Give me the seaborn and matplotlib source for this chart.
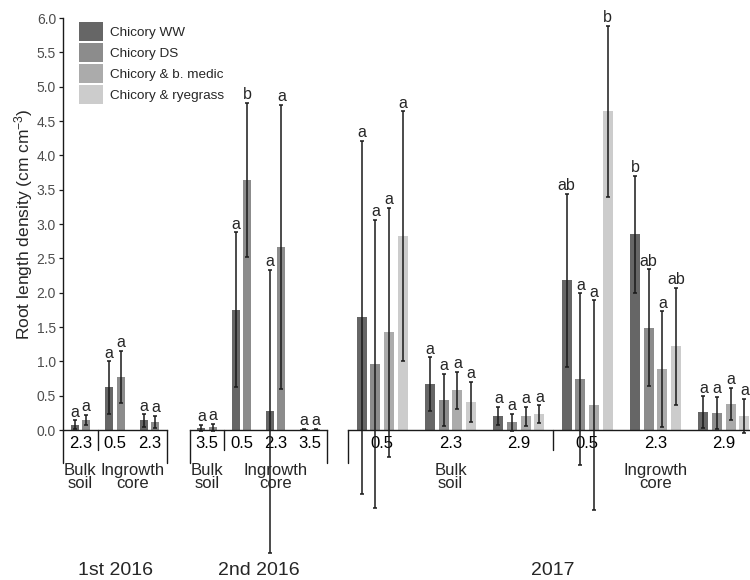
import numpy as np
import pandas as pd
import matplotlib.pyplot as plt
import seaborn as sns
from matplotlib.patches import Patch

# ---------------------------------------------------------------
# Data: root length density (cm cm-3), mean and error, with letters
# ---------------------------------------------------------------
treatments = ['Chicory WW', 'Chicory DS', 'Chicory & b. medic', 'Chicory & ryegrass']
grays = ['#666666', '#8c8c8c', '#ababab', '#cccccc']
palette = dict(zip(treatments, grays))

# 1st 2016
p1_groups = ['Bulk soil 2.3', 'Ingrowth core 0.5', 'Ingrowth core 2.3']
p1_depths = ['2.3', '0.5', '2.3']
p1_ww = [0.08, 0.62, 0.14]
p1_ww_err = [0.06, 0.38, 0.09]
p1_ds = [0.15, 0.77, 0.12]
p1_ds_err = [0.07, 0.38, 0.09]
p1_ww_let = ['a', 'a', 'a']
p1_ds_let = ['a', 'a', 'a']

# 2nd 2016
p2_groups = ['Bulk soil 3.5', 'Ingrowth core 0.5', 'Ingrowth core 2.3', 'Ingrowth core 3.5']
p2_depths = ['3.5', '0.5', '2.3', '3.5']
p2_ww = [0.03, 1.75, 0.27, 0.01]
p2_ww_err = [0.05, 1.13, 2.06, 0.01]
p2_ds = [0.04, 3.64, 2.67, 0.01]
p2_ds_err = [0.05, 1.12, 2.07, 0.01]
p2_ww_let = ['a', 'a', 'a', 'a']
p2_ds_let = ['a', 'b', 'a', 'a']

# 2017
p3_groups = ['Bulk soil 0.5', 'Bulk soil 2.3', 'Bulk soil 2.9',
             'Ingrowth core 0.5', 'Ingrowth core 2.3', 'Ingrowth core 2.9']
p3_depths = ['0.5', '2.3', '2.9', '0.5', '2.3', '2.9']
p3_ww = [1.64, 0.67, 0.21, 2.18, 2.85, 0.26]
p3_ww_err = [2.57, 0.39, 0.13, 1.26, 0.85, 0.23]
p3_ds = [0.96, 0.44, 0.11, 0.74, 1.49, 0.25]
p3_ds_err = [2.10, 0.38, 0.13, 1.25, 0.85, 0.23]
p3_bm = [1.42, 0.58, 0.20, 0.36, 0.89, 0.38]
p3_bm_err = [1.82, 0.27, 0.14, 1.53, 0.84, 0.23]
p3_rg = [2.82, 0.41, 0.23, 4.64, 1.22, 0.20]
p3_rg_err = [1.82, 0.29, 0.13, 1.25, 0.85, 0.25]
p3_ww_let = ['a', 'a', 'a', 'ab', 'b', 'a']
p3_ds_let = ['a', 'a', 'a', 'a', 'ab', 'a']
p3_bm_let = ['a', 'a', 'a', 'a', 'a', 'a']
p3_rg_let = ['a', 'a', 'a', 'b', 'ab', 'a']

# ---------------------------------------------------------------
sns.set_style('ticks')
plt.rcParams['font.family'] = ['Liberation Sans', 'DejaVu Sans']
plt.rcParams['mathtext.default'] = 'regular'

LINE = '#1a1a1a'

fig = plt.figure(figsize=(7.5, 5.8), dpi=100)


def px_axes(left, right, top=18, bottom=430):
    W, H = 750, 580
    return fig.add_axes([left / W, 1 - bottom / H, (right - left) / W, (bottom - top) / H])


def draw_panel(ax, groups, depths, n_bulk, values, errors, letters, year, width, gap):
    levels = treatments[:len(values)]
    df = pd.DataFrame({
        'group': np.tile(groups, len(levels)),
        'treatment': np.repeat(levels, len(groups)),
        'rld': np.concatenate(values),
    })
    sns.barplot(data=df, x='group', y='rld', hue='treatment', order=groups,
                hue_order=levels, palette=palette, width=width, gap=gap,
                errorbar=None, linewidth=0, legend=False, ax=ax)

    # error bars and significance letters on top of the seaborn bars
    for cont, err, lab in zip(ax.containers, errors, letters):
        xs = [b.get_x() + b.get_width() / 2 for b in cont]
        ys = [b.get_height() for b in cont]
        eb = ax.errorbar(xs, ys, yerr=err, fmt='none', ecolor=LINE,
                         elinewidth=1.1, capsize=1.6, capthick=1.1, zorder=3)
        for art in eb.get_children():
            art.set_clip_on(False)
        for x, y, e, t in zip(xs, ys, err, lab):
            ax.annotate(t, (x, y + e), xytext=(0, 0.5), textcoords='offset points',
                        ha='center', va='bottom', fontsize=11.5)

    n = len(groups)
    ax.set_ylim(0, 6)
    ax.set_xlim(-0.5, n - 0.5)
    ax.set_xlabel('')
    ax.set_ylabel('')
    ax.set_xticks(range(n))
    ax.set_xticklabels(depths)
    ax.tick_params(axis='x', length=0, pad=4.5, labelsize=12, labelcolor='black')
    for s in ['top', 'right']:
        ax.spines[s].set_visible(False)
    ax.spines['bottom'].set_color(LINE)
    ax.spines['bottom'].set_linewidth(1.0)

    # nested axis brackets
    trans = ax.get_xaxis_transform()
    for xe in (-0.5, n - 0.5):
        ax.plot([xe, xe], [0, -0.08], transform=trans, clip_on=False, color=LINE, lw=1.0)
    ax.plot([n_bulk - 0.5] * 2, [0, -0.0485], transform=trans, clip_on=False, color=LINE, lw=1.0)

    ax.text(np.mean(range(n_bulk)), -0.115, 'Bulk\nsoil', transform=trans,
            ha='center', va='center', linespacing=0.85, fontsize=12)
    ax.text(np.mean(range(n_bulk, n)), -0.115, 'Ingrowth\ncore', transform=trans,
            ha='center', va='center', linespacing=0.85, fontsize=12)
    ax.text(0.5, -0.34, year, transform=ax.transAxes, ha='center', va='center', fontsize=14)


ax1 = px_axes(63, 167)
ax2 = px_axes(190, 327)
ax3 = px_axes(348, 758)

draw_panel(ax1, p1_groups, p1_depths, 1, [p1_ww, p1_ds], [p1_ww_err, p1_ds_err],
           [p1_ww_let, p1_ds_let], '1st 2016', 0.667, 0.31)
draw_panel(ax2, p2_groups, p2_depths, 1, [p2_ww, p2_ds], [p2_ww_err, p2_ds_err],
           [p2_ww_let, p2_ds_let], '2nd 2016', 0.667, 0.31)
draw_panel(ax3, p3_groups, p3_depths, 3, [p3_ww, p3_ds, p3_bm, p3_rg],
           [p3_ww_err, p3_ds_err, p3_bm_err, p3_rg_err],
           [p3_ww_let, p3_ds_let, p3_bm_let, p3_rg_let], '2017', 0.8, 0.27)

# y axis only on the first panel
ax1.set_yticks(np.arange(0, 6.01, 0.5))
ax1.set_yticklabels([f'{v:.1f}' for v in np.arange(0, 6.01, 0.5)])
ax1.tick_params(axis='y', length=3, width=0.9, color=LINE, labelsize=10,
                labelcolor='#4d4d4d', pad=2)
ax1.spines['left'].set_color(LINE)
ax1.spines['left'].set_linewidth(1.0)
ax1.set_ylabel('Root length density (cm cm$^{-3}$)', fontsize=12.5, labelpad=1.5)
for ax in (ax2, ax3):
    ax.spines['left'].set_visible(False)
    ax.tick_params(axis='y', left=False, labelleft=False)

handles = [Patch(facecolor=palette[t], edgecolor='none') for t in treatments]
fig.legend(handles, treatments, loc='upper left', bbox_to_anchor=(79 / 750, 1 - 22.5 / 580),
           frameon=False, fontsize=9.7, handlelength=1.78, handleheight=1.78,
           labelspacing=0.15, handletextpad=0.5, borderpad=0, borderaxespad=0)

fig.savefig('out.png', dpi=100)
